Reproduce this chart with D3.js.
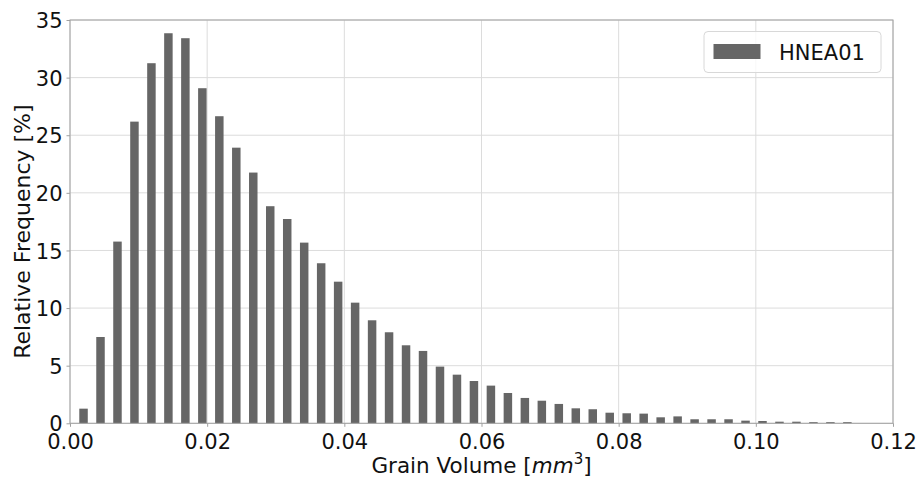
<!DOCTYPE html>
<html>
<head>
<meta charset="utf-8">
<script src="https://cdn.jsdelivr.net/npm/d3@7"></script>
<style>
  html, body { margin: 0; padding: 0; background: #fff; }
  svg { display: block; font-family: "DejaVu Sans", sans-serif; }
</style>
</head>
<body>
<svg id="chart" width="920" height="478"></svg>
<script>
// ---- data ----
const seriesName = "HNEA01";
const binStart = 0.000735;   // left edge of first bin
const binWidth = 0.002475;   // histogram bin width
const frequency = [
  1.27, 7.49, 15.77, 26.18, 31.25, 33.85, 33.42, 29.08, 26.65, 23.92,
  21.76, 18.84, 17.73, 15.68, 13.89, 12.29, 10.47, 8.94, 7.90, 6.77,
  6.28, 4.92, 4.22, 3.67, 3.27, 2.63, 2.20, 1.96, 1.68, 1.30,
  1.22, 0.92, 0.87, 0.84, 0.52, 0.60, 0.35, 0.35, 0.35, 0.23,
  0.20, 0.14, 0.14, 0.10, 0.10, 0.10
];
const xTicks = [0.00, 0.02, 0.04, 0.06, 0.08, 0.10, 0.12];
const yTicks = [0, 5, 10, 15, 20, 25, 30, 35];

// ---- layout ----
const svg = d3.select("#chart");
const L = 70, R = 893, T = 20, B = 423.3;
const x = d3.scaleLinear().domain([0, 0.12]).range([L, R]);
const y = d3.scaleLinear().domain([0, 35]).range([B, T]);

const gridColor = "#dcdcdc";
const spineColor = "#a0a0a0";
const barColor = "#666666";
const textColor = "#111111";

// grid
svg.append("g").selectAll("line.gx").data(xTicks).join("line")
  .attr("x1", d => x(d)).attr("x2", d => x(d))
  .attr("y1", T).attr("y2", B)
  .attr("stroke", gridColor).attr("stroke-width", 1);
svg.append("g").selectAll("line.gy").data(yTicks).join("line")
  .attr("x1", L).attr("x2", R)
  .attr("y1", d => y(d)).attr("y2", d => y(d))
  .attr("stroke", gridColor).attr("stroke-width", 1);

// bars (rwidth 0.5, centered in bin)
const rwidth = 0.5;
svg.append("g").selectAll("rect").data(frequency).join("rect")
  .attr("x", (d, i) => x(binStart + (i + 0.5 - rwidth / 2) * binWidth))
  .attr("width", x(binStart + rwidth * binWidth) - x(binStart))
  .attr("y", d => y(d))
  .attr("height", d => y(0) - y(d))
  .attr("fill", barColor);

// spines
svg.append("rect")
  .attr("x", L).attr("y", T).attr("width", R - L).attr("height", B - T)
  .attr("fill", "none").attr("stroke", spineColor).attr("stroke-width", 1);

// axes
const xAxis = d3.axisBottom(x).tickValues(xTicks).tickFormat(d3.format(".2f"))
  .tickSize(3.5).tickPadding(3);
const gx = svg.append("g").attr("transform", `translate(0,${B})`).call(xAxis);
const yAxis = d3.axisLeft(y).tickValues(yTicks).tickFormat(d3.format("d"))
  .tickSize(3.5).tickPadding(4);
const gy = svg.append("g").attr("transform", `translate(${L},0)`).call(yAxis);
[gx, gy].forEach(g => {
  g.select(".domain").remove();
  g.selectAll(".tick line").attr("stroke", spineColor);
  g.selectAll(".tick text").attr("fill", textColor)
    .style("font-family", "'DejaVu Sans', sans-serif").style("font-size", "21px");
});
gx.selectAll(".tick text").attr("dy", "0.92em");
gy.selectAll(".tick text").attr("dy", "0.36em");

// axis labels
const xl = svg.append("text")
  .attr("x", (L + R) / 2).attr("y", 473)
  .attr("text-anchor", "middle").attr("fill", textColor)
  .style("font-size", "21.5px");
xl.append("tspan").text("Grain Volume [");
xl.append("tspan").text("mm").style("font-style", "italic");
xl.append("tspan").text("3").attr("dy", -9).style("font-size", "15px");
xl.append("tspan").text("]").attr("dy", 9);

svg.append("text")
  .attr("transform", `translate(30,${(T + B) / 2 + 10}) rotate(-90)`)
  .attr("text-anchor", "middle").attr("fill", textColor)
  .style("font-size", "22px")
  .text("Relative Frequency [%]");

// legend
const lg = svg.append("g");
lg.append("rect")
  .attr("x", 704).attr("y", 31.5).attr("width", 177).attr("height", 41)
  .attr("rx", 4).attr("ry", 4)
  .attr("fill", "#ffffff").attr("fill-opacity", 0.8)
  .attr("stroke", "#d8d8d8").attr("stroke-width", 1);
lg.append("rect")
  .attr("x", 713.5).attr("y", 44).attr("width", 47).attr("height", 15)
  .attr("fill", barColor);
lg.append("text")
  .attr("x", 779).attr("y", 59.5)
  .attr("fill", textColor).style("font-size", "21px")
  .text(seriesName);
</script>
</body>
</html>
